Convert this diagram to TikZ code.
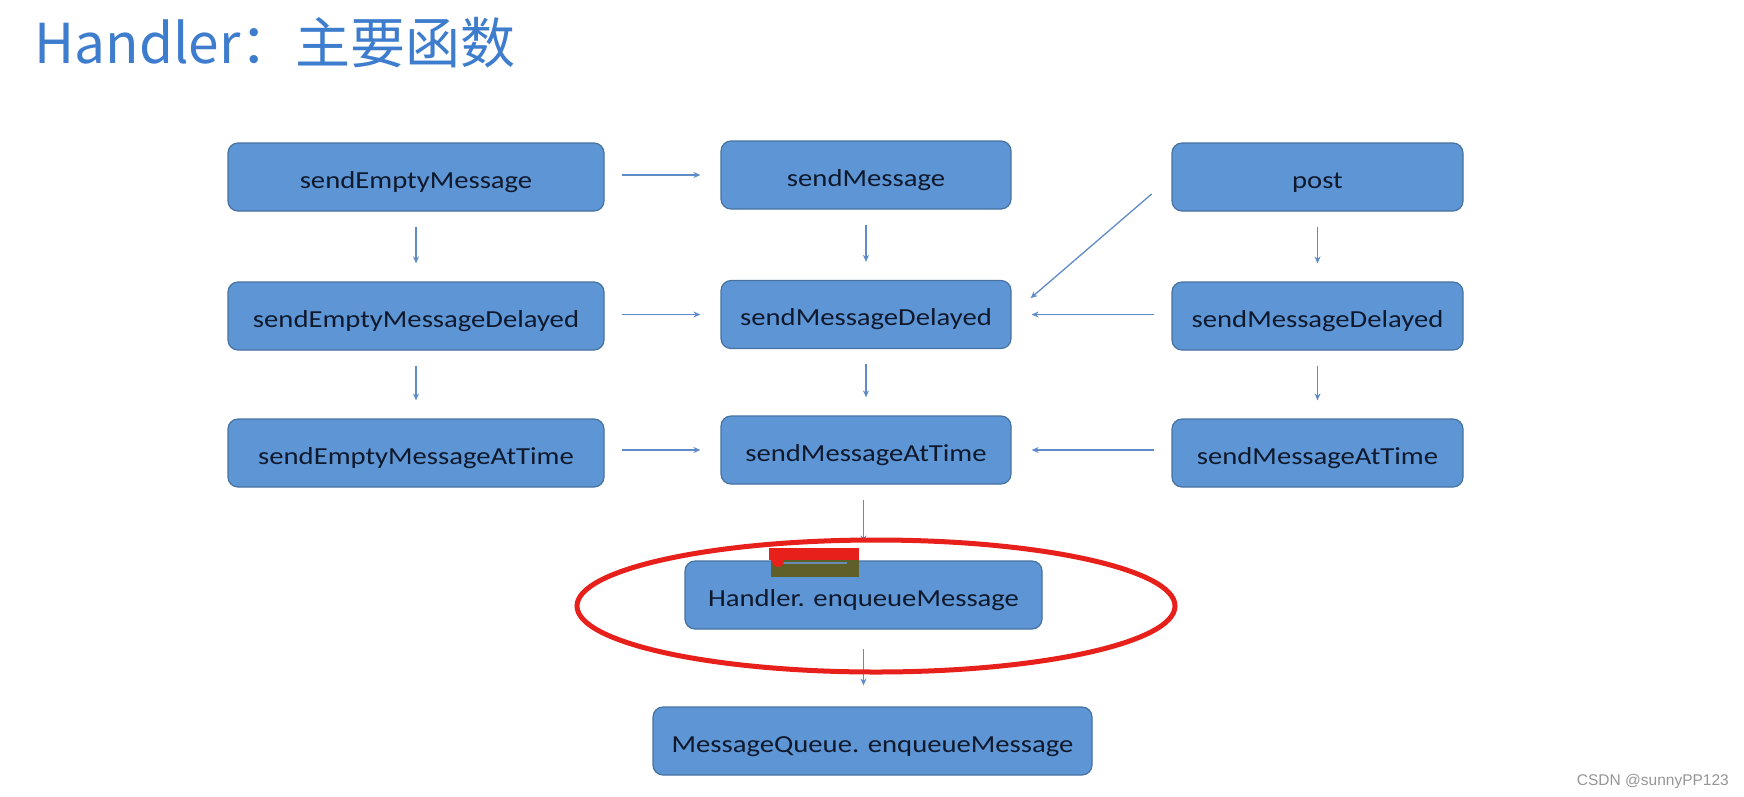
\documentclass[tikz,border=0pt]{standalone}
\usepackage{fontspec}
\setmainfont{Carlito}
\newfontfamily\cjk{Noto Sans CJK SC}
\newfontfamily\boxfont[FakeStretch=1.17]{Carlito}
\newfontfamily\wmfont{Liberation Sans}
\usetikzlibrary{arrows.meta}
\definecolor{titleblue}{RGB}{62,125,205}
\definecolor{boxfill}{RGB}{94,149,212}
\definecolor{boxborder}{RGB}{70,115,160}
\definecolor{boxtext}{RGB}{15,25,45}
\definecolor{arrowblue}{RGB}{95,140,200}
\definecolor{markred}{RGB}{232,32,28}
\definecolor{olive}{RGB}{95,95,42}
\definecolor{wmgray}{RGB}{150,150,150}
\tikzset{
  fbox/.style={draw=boxborder, fill=boxfill, rounded corners=10pt, line width=1.2pt,
    text=boxtext, font=\boxfont\fontsize{24.5}{28}\selectfont, minimum height=68pt,
    inner sep=0pt, text height=22pt, text depth=0pt, anchor=center},
  arr/.style={-{Stealth[length=7pt,width=6pt]}, line width=1.3pt, draw=arrowblue},
  varr/.style={arr, shorten <=15pt, shorten >=18pt},
  harr/.style={arr, shorten <=17pt, shorten >=20pt}
}
\begin{document}
\begin{tikzpicture}[x=1pt,y=-1pt]
\useasboundingbox (0,0) rectangle (1744,796);
\fill[white] (0,0) rectangle (1744,796);

\node[anchor=base west, text=titleblue, font=\cjk\fontsize{55}{62}\selectfont] (title) at (31,63) {Handler：主要函数};

% row 1
\node[fbox, minimum width=376pt] (le1) at (416,177) {sendEmptyMessage};
\node[fbox, minimum width=290pt] (m1) at (866,175) {sendMessage};
\node[fbox, minimum width=291pt] (r1) at (1317.5,177) {post};
% row 2
\node[fbox, minimum width=376pt] (le2) at (416,316) {sendEmptyMessageDelayed};
\node[fbox, minimum width=290pt] (m2) at (866,314.5) {sendMessageDelayed};
\node[fbox, minimum width=291pt] (r2) at (1317.5,316) {sendMessageDelayed};
% row 3
\node[fbox, minimum width=376pt] (le3) at (416,453) {sendEmptyMessageAtTime};
\node[fbox, minimum width=290pt] (m3) at (866,450) {sendMessageAtTime};
\node[fbox, minimum width=291pt] (r3) at (1317.5,453) {sendMessageAtTime};
% bottom
\node[fbox, minimum width=357pt] (he) at (863.5,595) {Handler. enqueueMessage};
\node[fbox, minimum width=439pt] (mq) at (872.5,741) {MessageQueue. enqueueMessage};

% vertical arrows
\draw[varr] (le1.south) -- (le2.north);
\draw[varr] (le2.south) -- (le3.north);
\draw[varr] (m1.south) -- (m2.north);
\draw[varr] (m2.south) -- (m3.north);
\draw[varr] (r1.south) -- (r2.north);
\draw[varr] (r2.south) -- (r3.north);
\draw[varr] (m3.south -| he.north) -- (he.north);
\draw[arr, shorten <=19pt, shorten >=21pt] (he.south) -- (he.south |- mq.north);

% horizontal arrows
\draw[harr] (m1.west -| le1.east) -- (m1.west);
\draw[harr] (m2.west -| le2.east) -- (m2.west);
\draw[harr] (m3.west -| le3.east) -- (m3.west);
\draw[harr] (m2.east -| r2.west) -- (m2.east);
\draw[harr] (m3.east -| r3.west) -- (m3.east);
% diagonal
\draw[arr, shorten <=26pt, shorten >=25pt] (r1.west) -- (m2.east);

% annotation marks
\fill[olive] (771,560) rectangle (859,577);
\draw[line width=1.5pt, draw=boxfill!60!gray] (781,563) -- (847,563);
\fill[markred] (769,548) rectangle (859,560);
\fill[markred] (778,561) circle (6pt);
\draw[markred, line width=5pt] (876,606) ellipse [x radius=299pt, y radius=66pt];

% watermark
\node[anchor=base east, text=wmgray, font=\wmfont\fontsize{15.5}{18}\selectfont, inner sep=0pt] (wm) at (1729,785) {CSDN @sunnyPP123};
\end{tikzpicture}
\end{document}
